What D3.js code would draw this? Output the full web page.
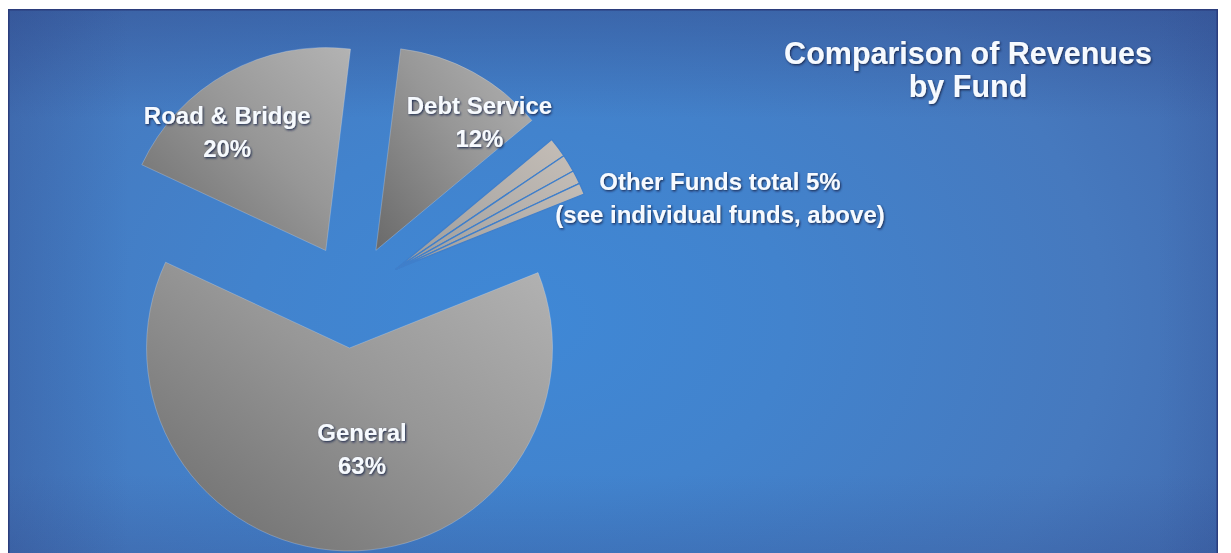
<!DOCTYPE html>
<html>
<head>
<meta charset="utf-8">
<script src="https://cdn.jsdelivr.net/npm/d3@7"></script>
<style>
  html, body { margin: 0; padding: 0; background: #ffffff; }
  svg { display: block; }
  text { font-family: "Liberation Sans", Arial, sans-serif; font-weight: bold; }
</style>
</head>
<body>
<div id="chart"></div>
<script>
// Revenue shares by fund, listed clockwise from the top of the pie
const categories = ["Debt Service", "Other Funds", "General", "Road & Bridge"];
const percents = [12, 5, 63, 20];
// Individual funds that make up "Other Funds"
const otherFundShares = [1.6, 1.4, 1.1, 0.9];
const otherFundsNote = "(see individual funds, above)";
const titleLines = ["Comparison of Revenues", "by Fund"];

const W = 1231, H = 553;
const frame = { x: 8, y: 9, w: 1210, h: 548 };
const cx = 351, cy = 296, R = 203, explode = 52;
const startDeg = 7;

// label placement relative to each exploded slice: distance from its apex and angle nudge
const labelLayout = {
  "Debt Service": { r: 166, nudge: 10 },
  "Other Funds": { r: 0, nudge: 0 },
  "General": { r: 101, nudge: -8.7 },
  "Road & Bridge": { r: 155, nudge: -10.5 }
};

const svg = d3.select("#chart").append("svg")
  .attr("width", W).attr("height", H);
const defs = svg.append("defs");

// background: bright blue glow behind the pie, a little darker toward the edges
const bg = defs.append("radialGradient").attr("id", "bg")
  .attr("gradientUnits", "userSpaceOnUse")
  .attr("cx", 520).attr("cy", 320).attr("r", 900)
  .attr("gradientTransform", "translate(520,320) scale(1,0.7) translate(-520,-320)");
[[0, "#3f88d6"], [0.3, "#4283cd"], [0.65, "#4679be"], [1, "#3f64a8"]]
  .forEach(([o, c]) => bg.append("stop").attr("offset", o).attr("stop-color", c));

const topShade = defs.append("linearGradient").attr("id", "topShade")
  .attr("x1", 0).attr("y1", 0).attr("x2", 0).attr("y2", 1);
topShade.append("stop").attr("offset", 0).attr("stop-color", "#2c4384").attr("stop-opacity", 0.4);
topShade.append("stop").attr("offset", 0.2).attr("stop-color", "#2c4384").attr("stop-opacity", 0);
topShade.append("stop").attr("offset", 0.85).attr("stop-color", "#2c4384").attr("stop-opacity", 0);
topShade.append("stop").attr("offset", 1).attr("stop-color", "#2c4384").attr("stop-opacity", 0.22);

const sideShade = defs.append("linearGradient").attr("id", "sideShade")
  .attr("x1", 0).attr("y1", 0).attr("x2", 1).attr("y2", 0);
sideShade.append("stop").attr("offset", 0).attr("stop-color", "#2c4384").attr("stop-opacity", 0.28);
sideShade.append("stop").attr("offset", 0.1).attr("stop-color", "#2c4384").attr("stop-opacity", 0);
sideShade.append("stop").attr("offset", 0.95).attr("stop-color", "#2c4384").attr("stop-opacity", 0);
sideShade.append("stop").attr("offset", 1).attr("stop-color", "#2c4384").attr("stop-opacity", 0.15);

// grey slice fill, dark at lower left, light at upper right
const sliceGrad = defs.append("linearGradient").attr("id", "slice")
  .attr("x1", 0).attr("y1", 1).attr("x2", 1).attr("y2", 0);
sliceGrad.append("stop").attr("offset", 0).attr("stop-color", "#6a6a6a");
sliceGrad.append("stop").attr("offset", 0.55).attr("stop-color", "#979797");
sliceGrad.append("stop").attr("offset", 1).attr("stop-color", "#b3b3b3");

const sliverGrad = defs.append("linearGradient").attr("id", "sliver")
  .attr("x1", 0).attr("y1", 1).attr("x2", 1).attr("y2", 0);
sliverGrad.append("stop").attr("offset", 0).attr("stop-color", "#9c9c9c");
sliverGrad.append("stop").attr("offset", 1).attr("stop-color", "#c4bdb6");

const shadow = defs.append("filter").attr("id", "txtShadow")
  .attr("x", "-10%").attr("y", "-30%").attr("width", "120%").attr("height", "160%");
shadow.append("feDropShadow").attr("dx", 1).attr("dy", 1.2)
  .attr("stdDeviation", 0.8).attr("flood-color", "#17224a").attr("flood-opacity", 0.95);

// panel
svg.append("rect").attr("x", frame.x).attr("y", frame.y)
  .attr("width", frame.w).attr("height", frame.h).attr("fill", "url(#bg)");
svg.append("rect").attr("x", frame.x).attr("y", frame.y)
  .attr("width", frame.w).attr("height", frame.h).attr("fill", "url(#topShade)");
svg.append("rect").attr("x", frame.x).attr("y", frame.y)
  .attr("width", frame.w).attr("height", frame.h).attr("fill", "url(#sideShade)");
svg.append("rect").attr("x", frame.x + 0.75).attr("y", frame.y + 0.75)
  .attr("width", frame.w - 1.5).attr("height", frame.h + 4)
  .attr("fill", "none").attr("stroke", "#2b3d7c").attr("stroke-width", 1.5);

const toRad = d => d * Math.PI / 180;
const pie = d3.pie().sort(null).value(d => d.value).startAngle(toRad(startDeg)).endAngle(toRad(startDeg + 360));
const slices = pie(categories.map((c, i) => ({ name: c, value: percents[i] })));
const arc = d3.arc().innerRadius(0).outerRadius(R);

const offsetOf = (d, dist) => {
  const mid = (d.startAngle + d.endAngle) / 2;
  return [Math.sin(mid) * dist, -Math.cos(mid) * dist];
};

const plot = svg.append("g").attr("transform", `translate(${cx},${cy})`);

slices.forEach(d => {
  const [ox, oy] = offsetOf(d, explode);
  const g = plot.append("g").attr("transform", `translate(${ox},${oy})`);
  if (d.data.name === "Other Funds") {
    const sub = d3.pie().sort(null).startAngle(d.startAngle).endAngle(d.endAngle)(otherFundShares);
    g.selectAll("path").data(sub).join("path")
      .attr("d", arc)
      .attr("fill", "url(#sliver)")
      .attr("stroke", "#3f7fcb").attr("stroke-width", 1.3).attr("stroke-linejoin", "round");
  } else {
    g.append("path").attr("d", arc(d))
      .attr("fill", "url(#slice)")
      .attr("stroke", "rgba(220,230,245,0.35)").attr("stroke-width", 0.8);
  }
});

// labels
const labelG = svg.append("g").attr("filter", "url(#txtShadow)")
  .attr("fill", "#f6faff").attr("text-anchor", "middle").attr("font-size", 24);

slices.forEach(d => {
  const name = d.data.name;
  let lines, x, y;
  if (name === "Other Funds") {
    lines = [`${name} total ${d.data.value}%`, otherFundsNote];
    // to the right of the slivers' outer tips
    const [ax, ay] = offsetOf(d, explode);
    const mid = (d.startAngle + d.endAngle) / 2;
    x = cx + ax + Math.sin(mid) * R + 150;
    y = cy + ay - Math.cos(mid) * R + 32;
  } else {
    lines = [name, `${d.data.value}%`];
    const L = labelLayout[name];
    const [ax, ay] = offsetOf(d, explode);
    const a = (d.startAngle + d.endAngle) / 2 + toRad(L.nudge);
    x = cx + ax + Math.sin(a) * L.r;
    y = cy + ay - Math.cos(a) * L.r;
  }
  const t = labelG.append("text").attr("x", x).attr("y", y - 16 + 9);
  lines.forEach((ln, i) => t.append("tspan").attr("x", x).attr("dy", i === 0 ? 0 : 33).text(ln));
});

// title
const title = svg.append("text").attr("filter", "url(#txtShadow)")
  .attr("fill", "#f6faff").attr("text-anchor", "middle").attr("font-size", 30.5)
  .attr("x", 968).attr("y", 64);
titleLines.forEach((ln, i) => title.append("tspan").attr("x", 968).attr("dy", i === 0 ? 0 : 33).text(ln));
</script>
</body>
</html>
